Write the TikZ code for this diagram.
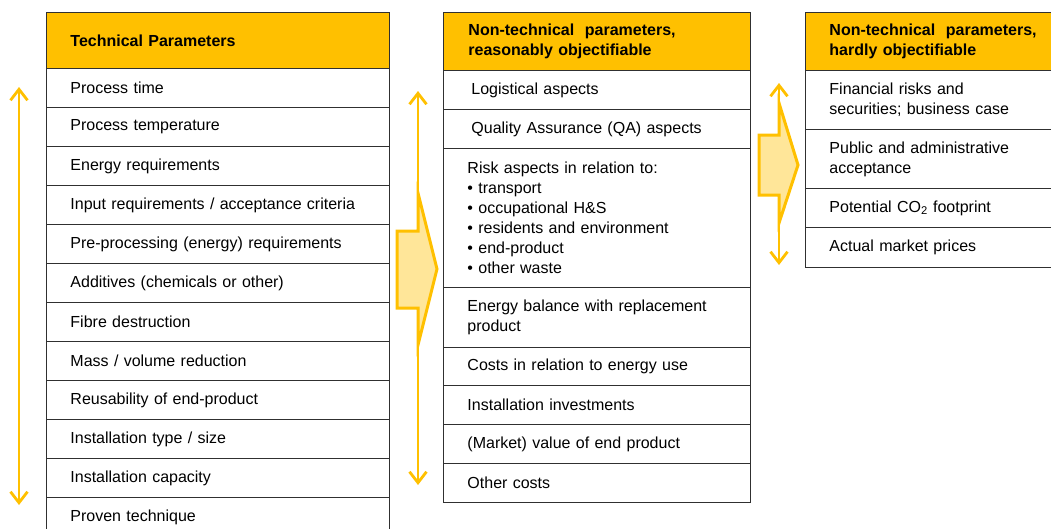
\documentclass[tikz,border=0pt]{standalone}
\usepackage{fontspec}
\setmainfont{Liberation Sans}
\usetikzlibrary{arrows.meta}
\definecolor{hdr}{HTML}{FFC000}
\definecolor{lightfill}{HTML}{FFE699}
\definecolor{gridline}{HTML}{303030}
\begin{document}
\begin{tikzpicture}[x=1pt,y=-1pt,
  cell/.style={draw=gridline, line width=0.9pt, rectangle, anchor=north west,
    align=left, inner ysep=0pt, font=\fontsize{16}{20}\selectfont},
  geom/.style 2 args={inner xsep=#1, text width=#2},
  c1/.style={cell, geom={24pt}{295pt}},
  c2/.style={cell, geom={24pt}{259pt}},
  c2b/.style={cell, geom={28pt}{251pt}},
  c2h/.style={cell, geom={25pt}{257pt}},
  c3/.style={cell, geom={24pt}{212pt}},
  hd/.style={fill=hdr, font=\fontsize{16}{20}\selectfont\bfseries},
  yarrow/.style={draw=hdr, line width=2.8pt,
    {Straight Barb[length=11pt,width=17pt]}-{Straight Barb[length=11pt,width=17pt]}},
  chev/.style={draw=hdr, fill=lightfill, line width=3pt, line join=miter}
]
\useasboundingbox (0,0) rectangle (1051,528);

% ---------- Column 1 ----------
\node[c1,hd,minimum height=56pt] (t0) at (46,12) {Technical Parameters};
\node[c1,minimum height=39pt] (t1) at (46,68) {Process time};
\node[c1,minimum height=39pt] (t2) at (46,107) {Process temperature};
\node[c1,minimum height=39pt] (t3) at (46,146) {Energy requirements};
\node[c1,minimum height=39pt] (t4) at (46,185) {Input requirements / acceptance criteria};
\node[c1,minimum height=39pt] (t5) at (46,224) {Pre-processing (energy) requirements};
\node[c1,minimum height=39pt] (t6) at (46,263) {Additives (chemicals or other)};
\node[c1,minimum height=39pt] (t7) at (46,302) {Fibre destruction};
\node[c1,minimum height=39pt] (t8) at (46,341) {Mass / volume reduction};
\node[c1,minimum height=39pt] (t9) at (46,380) {Reusability of end-product};
\node[c1,minimum height=39pt] (t10) at (46,419) {Installation type / size};
\node[c1,minimum height=39pt] (t11) at (46,458) {Installation capacity};
\node[c1,minimum height=39pt] (t12) at (46,497) {Proven technique};

% ---------- Column 2 ----------
\node[c2h,hd,minimum height=58pt] (n0) at (443,12) {Non-technical~ parameters,\\reasonably objectifiable};
\node[c2b,minimum height=39pt] (n1) at (443,70) {Logistical aspects};
\node[c2b,minimum height=39pt] (n2) at (443,109) {Quality Assurance (QA) aspects};
\node[c2,minimum height=139pt] (n3) at (443,148) {Risk aspects in relation to:\\
  \textbullet\ transport\\ \textbullet\ occupational H\&S\\ \textbullet\ residents and environment\\
  \textbullet\ end-product\\ \textbullet\ other waste};
\node[c2,minimum height=60pt] (n4) at (443,287) {Energy balance with replacement\\product};
\node[c2,minimum height=38pt] (n5) at (443,347) {Costs in relation to energy use};
\node[c2,minimum height=39pt] (n6) at (443,385) {Installation investments};
\node[c2,minimum height=39pt] (n7) at (443,424) {(Market) value of end product};
\node[c2,minimum height=39pt] (n8) at (443,463) {Other costs};

% ---------- Column 3 ----------
\node[c3,hd,minimum height=58pt] (h0) at (805,12) {Non-technical~ parameters,\\hardly objectifiable};
\node[c3,minimum height=59pt] (h1) at (805,70) {Financial risks and\\securities; business case};
\node[c3,minimum height=59pt] (h2) at (805,129) {Public and administrative\\acceptance};
\node[c3,minimum height=39pt] (h3) at (805,188) {Potential CO\textsubscript{2} footprint};
\node[c3,minimum height=40pt] (h4) at (805,227) {Actual market prices};

% ---------- Arrows ----------
\coordinate (la) at (19,87);
\coordinate (lb) at (19,505);
\draw[yarrow] (la) -- (lb);

\coordinate (ma) at (418,91);
\coordinate (mb) at (418,485);
\draw[yarrow] (ma) -- (mb);
\draw[chev] (418,193) -- (437,269) -- (418,345) -- (418,308) -- (397,308)
  -- (397,231) -- (418,231) -- cycle;

\coordinate (ra) at (779,83);
\coordinate (rb) at (779,265);
\draw[yarrow] (ra) -- (rb);
\draw[chev] (779,103) -- (798,165) -- (779,223) -- (779,195) -- (759,195)
  -- (759,135) -- (779,135) -- cycle;
\end{tikzpicture}
\end{document}
